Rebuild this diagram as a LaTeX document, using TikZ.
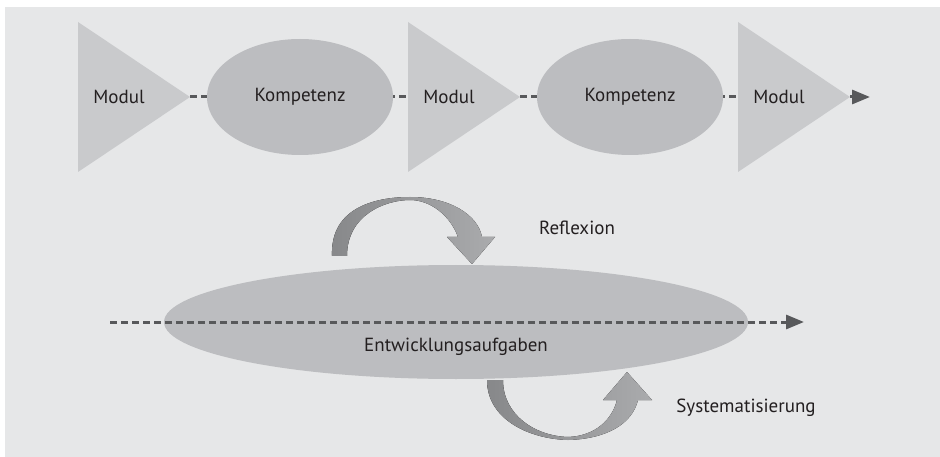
\documentclass[tikz,border=0pt]{standalone}
\usepackage{fontspec}
\setmainfont{PT Sans}
\usetikzlibrary{arrows.meta,positioning,shapes.geometric}

\begin{document}
\begin{tikzpicture}[x=1pt,y=-1pt,>=Stealth,font=\fontsize{19}{22}\selectfont,
    kompell/.style={ellipse,fill=cEll,inner sep=0pt,text=cTxt},
    flow/.style={dash pattern=on 7pt off 4pt,line width=3pt,draw=cLine,
      -{Triangle[length=18pt,width=14pt]}},
    ribbon/.style={left color=cDark,right color=cLight,draw=none}]
    \definecolor{cBg}{RGB}{230,231,232}\definecolor{cTri}{RGB}{201,202,204}
    \definecolor{cEll}{RGB}{188,189,192}\definecolor{cLine}{RGB}{88,89,91}
    \definecolor{cDark}{RGB}{135,136,138}\definecolor{cLight}{RGB}{170,171,173}
    \definecolor{cTxt}{RGB}{35,31,32}
    \useasboundingbox (0,0) rectangle (940,457);
    \fill[cBg] (5,7) rectangle (940,457);
    % ---------- TOP: Modul / Kompetenz chain ----------
    \coordinate (a1) at (190,97);
    \coordinate (e1) at (870,97);
    \draw[flow] (a1) -- (e1);
    \foreach \x/\n in {78/m1,408/m2,738/m3} {
      \fill[cTri] (\x,22) -- ++(112,75) -- ++(-112,75) -- cycle;
      \node[text=cTxt] (\n) at (\x+41,97) {Modul};
    }
    \node[kompell,minimum width=186pt,minimum height=116pt] (k1) at (300,97) {Kompetenz};
    \node[kompell,minimum width=186pt,minimum height=116pt] (k2) at (630,97) {Kompetenz};
    % ---------- BOTTOM: Entwicklungsaufgaben ----------
    \node[kompell,minimum width=584pt,minimum height=114pt] (ea) at (456,322) {};
    \node[text=cTxt] (eatxt) at (456,347) {Entwicklungsaufgaben};
    \coordinate (a2) at (110,322);
    \coordinate (e2) at (804,322);
    \draw[flow] (a2) -- (e2);
    % upper curved arrow
    \fill[ribbon] (332,256) .. controls (330,205) and (380,197) .. (410,197)
      .. controls (450,197) and (478,215) .. (482,237) -- (495,237) -- (472,264)
      -- (447,237) -- (458,237) .. controls (450,215) and (430,200) .. (410,200)
      .. controls (385,200) and (347,215) .. (347,256) -- cycle;
    % lower curved arrow
    \fill[ribbon] (487,380) .. controls (487,420) and (530,439) .. (568,440)
      .. controls (605,439) and (632,425) .. (638,400) -- (652,400) -- (627,372)
      -- (603,400) -- (617,400) .. controls (612,420) and (595,436) .. (568,437)
      .. controls (535,436) and (503,415) .. (503,380) -- cycle;
    \node[text=cTxt] (refl) at (577,228) {Reflexion};
    \node[text=cTxt] (syst) at (746,408) {Systematisierung};
\end{tikzpicture}
\end{document}
